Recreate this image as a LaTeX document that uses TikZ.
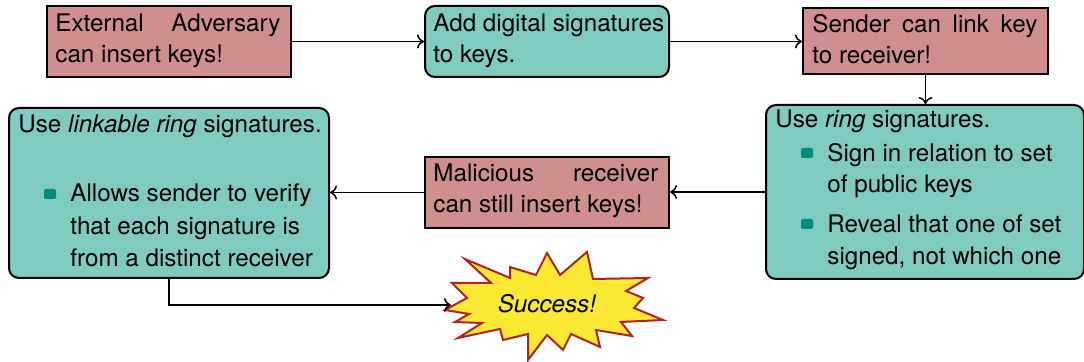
\documentclass[tikz,border=0pt]{standalone}
\usepackage{fontspec}
\setmainfont{TeX Gyre Heros}
\usetikzlibrary{arrows.meta}
\definecolor{redfill}{RGB}{208,143,143}
\definecolor{tealfill}{RGB}{128,203,191}
\definecolor{bulletc}{RGB}{0,140,122}
\definecolor{burstfill}{RGB}{250,232,50}
\definecolor{burstline}{RGB}{175,35,35}
\tikzset{
  boxbase/.style={draw=black, line width=1pt, anchor=north west, inner sep=0pt},
  redbox/.style={boxbase, fill=redfill},
  tealbox/.style={boxbase, fill=tealfill, rounded corners=5pt},
  txt/.style={anchor=base west, inner sep=0pt, font=\fontsize{12.1}{15}\selectfont},
  conn/.style={draw=black, line width=0.75pt, -{To[length=3.5pt,width=7pt]}},
  bulletsq/.style={fill=bulletc, rounded corners=1pt, draw=none},
}
\newcommand{\jline}[1]{\makebox[112.5pt][s]{#1}}
\begin{document}
\begin{tikzpicture}[x=0.5pt,y=-0.5pt]
\useasboundingbox (0,0) rectangle (1084,362);
% boxes
\node[redbox, minimum width=122pt, minimum height=35.5pt] (b1) at (46,5) {};
\node[tealbox, minimum width=122pt, minimum height=35.5pt] (b2) at (424,5) {};
\node[redbox, minimum width=122.5pt, minimum height=33pt] (b3) at (802,7) {};
\node[tealbox, minimum width=159pt, minimum height=87pt] (b4) at (765,104) {};
\node[redbox, minimum width=122pt, minimum height=35.5pt] (b5) at (424,156) {};
\node[tealbox, minimum width=160pt, minimum height=85pt] (b6) at (8,107) {};
% texts
\node[txt] (t1a) at (55,32) {\jline{External Adversary}};
\node[txt] (t1b) at (55,63) {can insert keys!};
\node[txt] (t2a) at (433,32) {Add digital signatures};
\node[txt] (t2b) at (433,63) {to keys.};
\node[txt] (t3a) at (812,33) {\jline{Sender can link key}};
\node[txt] (t3b) at (812,64) {to receiver!};
\node[txt] (t5a) at (433,182) {\jline{Malicious receiver}};
\node[txt] (t5b) at (433,213) {can still insert keys!};
\node[txt] (t4a) at (775,128) {Use \textit{ring} signatures.};
\fill[bulletsq] (801,148) rectangle (813,158);
\node[txt] (t4b) at (827,162) {Sign in relation to set};
\node[txt] (t4c) at (827,193) {of public keys};
\fill[bulletsq] (801,219) rectangle (813,229);
\node[txt] (t4d) at (827,233) {Reveal that one of set};
\node[txt] (t4e) at (827,265) {signed, not which one};
\node[txt] (t6a) at (18,133) {Use \textit{linkable ring} signatures.};
\fill[bulletsq] (44,189) rectangle (56,199);
\node[txt] (t6b) at (70,202) {Allows sender to verify};
\node[txt] (t6c) at (70,235) {that each signature is};
\node[txt] (t6d) at (70,267) {from a distinct receiver};
% starburst
\draw[fill=burstfill, draw=burstline, line width=1pt, line join=miter]
 (445,310) -- (467,298) -- (452,283) -- (491,283) -- (465,259) -- (510,278)
 -- (510,267) -- (536,275) -- (547,253) -- (560,275) -- (587,252) -- (593,279)
 -- (648,278) -- (626,291) -- (643,298) -- (634,308) -- (663,320) -- (621,322)
 -- (632,336) -- (596,330) -- (600,347) -- (571,334) -- (563,350) -- (547,335)
 -- (528,360) -- (528,334) -- (503,340) -- (500,329) -- (458,338) -- (482,323)
 -- (455,322) -- (469,314) -- cycle;
\coordinate (sbL) at (451,305);
\node[txt, anchor=base] (succ) at (547,313) {\textit{Success!}};
% connectors
\draw[conn] (b1.east) -- (b1.east -| b2.west);
\draw[conn] (b2.east) -- (b2.east -| b3.west);
\draw[conn] (b3.south) -- (b3.south |- b4.north);
\draw[conn] (b4.west) -- (b4.west -| b5.east);
\draw[conn] (b5.west) -- (b5.west -| b6.east);
\draw[conn] (b6.south) |- (sbL);
\end{tikzpicture}
\end{document}
